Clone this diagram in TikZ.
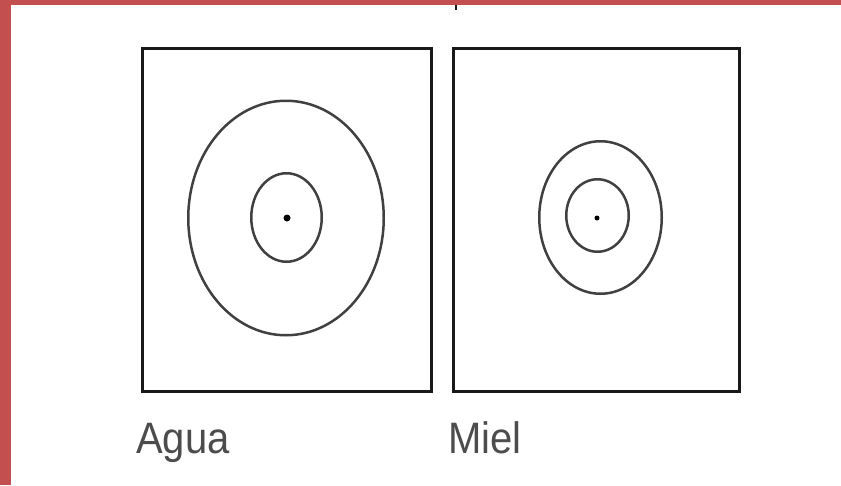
\documentclass[tikz,border=0pt]{standalone}
\usepackage{fontspec}
\setmainfont{Liberation Sans}
\usetikzlibrary{shapes.geometric}
\definecolor{edgered}{rgb}{0.77, 0.31, 0.31}
\definecolor{inkgray}{rgb}{0.25, 0.25, 0.25}
\tikzstyle{vessel} = [rectangle, draw=black!90, line width=3pt, inner sep=0]
\tikzstyle{wave} = [ellipse, draw=inkgray, line width=2.5pt, inner sep=0]
\tikzstyle{source} = [circle, fill=black, inner sep=0]
\tikzstyle{fluid} = [anchor=base west, inner sep=0, text=black!70, font=\fontsize{40}{40}\selectfont, yscale=1.1]

\begin{document}
\begin{tikzpicture}[x=1pt, y=-1pt]

    \useasboundingbox (0,0) rectangle (841,485);

% Page edge
    \fill[edgered] (0,0) rectangle (11,485);
    \fill[edgered] (0,0) rectangle (841,5);
    \draw[black!90, line width=2pt] (456,5) -- (456,10);

    % Left box: water
    \node (box1) at (287,220) [vessel, minimum width=289pt, minimum height=343pt] {};
    \node (wave1) at (286,218) [wave, minimum width=195.5pt, minimum height=234.5pt] {};
    \node (ring1) at (286.5,217.5) [wave, minimum width=70.5pt, minimum height=88.5pt] {};
    \node (drop1) at (287,218) [source, minimum size=7pt] {};
    \node (agua) at (136,453) [fluid] {Agua};

    % Right box: honey
    \node (box2) at (596.5,220) [vessel, minimum width=286pt, minimum height=343pt] {};
    \node (wave2) at (600.5,217.5) [wave, minimum width=122.5pt, minimum height=152.5pt] {};
    \node (ring2) at (597.5,215.5) [wave, minimum width=62.5pt, minimum height=72.5pt] {};
    \node (drop2) at (597,218) [source, minimum size=5pt] {};
    \node (miel) at (448,453) [fluid] {Miel};

\end{tikzpicture}
\end{document}
